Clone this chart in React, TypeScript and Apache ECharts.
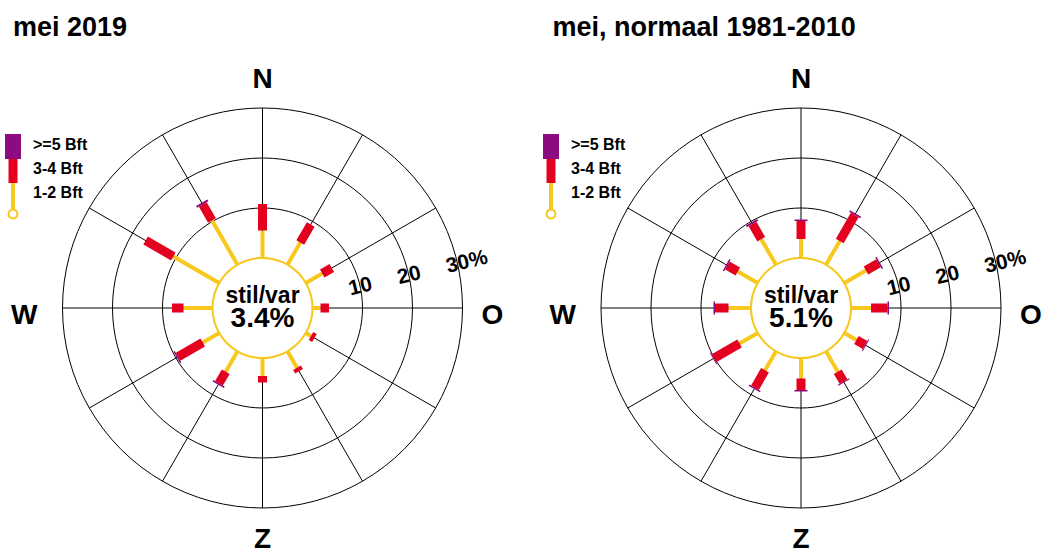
import React, { useEffect, useRef } from "react";
import * as echarts from "echarts";

// ---- data ----
const directions = [0, 30, 60, 90, 120, 150, 180, 210, 240, 270, 300, 330];
const titles = ["mei 2019", "mei, normaal 1981-2010"];
// mei 2019 (percent of time per direction)
const may2019Light = [5.5, 5.1, 3.8, 1.6, 1.2, 3.8, 3.6, 4.7, 3.8, 5.8, 10.6, 10.2];
const may2019Moderate = [5.3, 4.2, 2.2, 1.7, 0.8, 0.8, 1.3, 2.7, 5.7, 2.3, 6.4, 3.7];
const may2019Strong = [0, 0, 0, 0, 0, 0, 0, 0.3, 0.3, 0, 0, 0.4];
const may2019Calm = 3.4;
// mei, normaal 1981-2010
const normalLight = [3.8, 5.5, 5.0, 4.0, 2.8, 4.7, 4.1, 4.4, 4.2, 4.5, 4.6, 5.9];
const normalModerate = [3.6, 6.0, 2.9, 3.3, 2.0, 2.3, 2.3, 4.0, 5.9, 2.7, 2.4, 3.5];
const normalStrong = [0.3, 0.3, 0.3, 0.3, 0.2, 0.2, 0.3, 0.3, 0.2, 0.3, 0.3, 0.4];
const normalCalm = 5.1;
// radius ticks
const radiusTicks = [10, 20, 30];
const radiusTickLabels = ["10", "20", "30%"];
const compassLabels: Record<number, string> = { 0: "N", 90: "O", 180: "Z", 270: "W" };
const legendLabels = [">=5 Bft", "3-4 Bft", "1-2 Bft"];
const calmLabel = "stil/var";

// ---- styles ----
const YELLOW = "#f8c81c";
const RED = "#e4001f";
const PURPLE = "#8c0b7e";
const FONT = "'Liberation Sans', Arial, Helvetica, sans-serif";

const panels = [
  { light: may2019Light, moderate: may2019Moderate, strong: may2019Strong, calm: may2019Calm, center: [262.5, 308], dx: 0, titleX: 13 },
  { light: normalLight, moderate: normalModerate, strong: normalStrong, calm: normalCalm, center: [801, 308], dx: 538, titleX: 552.5 },
];

function barRenderer(params: any, api: any) {
  const light = api.value(0);
  const dir = api.value(1);
  const mod = api.value(2);
  const strong = api.value(3);
  const c = api.coord([-10, dir]);
  const o = api.coord([30, dir]);
  const len = Math.hypot(o[0] - c[0], o[1] - c[1]);
  const ux = (o[0] - c[0]) / len;
  const uy = (o[1] - c[1]) / len;
  const nx = -uy;
  const ny = ux;
  const seg = (v1: number, v2: number, w: number, color: string) => {
    const p1 = api.coord([v1, dir]);
    const p2 = api.coord([v2, dir]);
    const h = w / 2;
    return {
      type: "polygon",
      shape: {
        points: [
          [p1[0] + nx * h, p1[1] + ny * h],
          [p2[0] + nx * h, p2[1] + ny * h],
          [p2[0] - nx * h, p2[1] - ny * h],
          [p1[0] - nx * h, p1[1] - ny * h],
        ],
      },
      style: { fill: color },
    };
  };
  const children: any[] = [];
  if (light > 0) children.push(seg(0, light, 4, YELLOW));
  if (mod > 0) children.push(seg(light, light + mod, 9, RED));
  if (strong > 0) children.push(seg(light + mod, light + mod + strong, 13, PURPLE));
  return { type: "group", children };
}

function calmRenderer(params: any, api: any) {
  const calm = api.value(2);
  const c = api.coord([-10, 0]);
  const e = api.coord([0, 0]);
  const R = Math.hypot(e[0] - c[0], e[1] - c[1]);
  return {
    type: "group",
    children: [
      { type: "circle", shape: { cx: c[0], cy: c[1], r: R }, style: { fill: "#fff", stroke: YELLOW, lineWidth: 2 } },
      {
        type: "text",
        x: c[0],
        y: c[1] - 1,
        style: {
          text: "{a|" + calmLabel + "}\n{b|" + calm.toFixed(1) + "%}",
          fill: "#000",
          fontFamily: FONT,
          fontWeight: "bold",
          align: "center",
          verticalAlign: "middle",
          rich: {
            a: { fontSize: 23, lineHeight: 20, fontWeight: "bold", fontFamily: FONT, fill: "#000", align: "center" },
            b: { fontSize: 28, lineHeight: 24, fontWeight: "bold", fontFamily: FONT, fill: "#000", align: "center" },
          },
        },
      },
    ],
  };
}

function tickRenderer(params: any, api: any) {
  const v = api.value(0);
  const a = api.value(1);
  const p = api.coord([v, a]);
  return {
    type: "text",
    x: p[0],
    y: p[1],
    rotation: (14 * Math.PI) / 180,
    style: {
      text: radiusTickLabels[params.dataIndex],
      x: -11.5,
      y: 0,
      fill: "#000",
      fontSize: 21,
      fontWeight: "bold",
      fontFamily: FONT,
      align: "left",
      verticalAlign: "middle",
    },
  };
}

export default function App() {
  const ref = useRef<HTMLDivElement>(null);
  useEffect(() => {
    if (!ref.current) return;
    const chart = echarts.init(ref.current, undefined, { renderer: "svg" });

    const polar = panels.map((p) => ({ center: p.center, radius: [0, 200] }));
    const angleAxis = panels.map((p, i) => ({
      polarIndex: i,
      type: "value",
      min: 0,
      max: 360,
      interval: 30,
      startAngle: 90,
      clockwise: true,
      axisLine: { show: false },
      axisTick: { show: false },
      splitLine: { show: true, lineStyle: { color: "#000", width: 1 } },
      axisLabel: {
        show: true,
        margin: 16,
        color: "#000",
        fontSize: 28,
        fontWeight: "bold",
        fontFamily: FONT,
        formatter: (v: number) => {
          const t = compassLabels[v];
          if (!t || v === 360) return "";
          return "{" + t.toLowerCase() + "|" + t + "}";
        },
        rich: {
          n: { fontSize: 28, fontWeight: "bold", fontFamily: FONT, color: "#000" },
          o: { fontSize: 28, fontWeight: "bold", fontFamily: FONT, color: "#000", padding: [12, 0, 0, 3] },
          z: { fontSize: 28, lineHeight: 22, fontWeight: "bold", fontFamily: FONT, color: "#000", padding: [6, 0, 0, 0] },
          w: { fontSize: 28, fontWeight: "bold", fontFamily: FONT, color: "#000", padding: [12, 9, 0, 0] },
        },
      },
    }));
    const radiusAxis = panels.map((p, i) => ({
      polarIndex: i,
      type: "value",
      min: -10,
      max: 30,
      interval: 10,
      axisLine: { show: false },
      axisTick: { show: false },
      axisLabel: { show: false },
      splitLine: { show: true, lineStyle: { color: "#000", width: 1 } },
    }));

    const series: any[] = [];
    panels.forEach((p, i) => {
      series.push({
        type: "custom",
        name: "calm" + i,
        coordinateSystem: "polar",
        polarIndex: i,
        renderItem: calmRenderer,
        data: [[0, 0, p.calm]],
        silent: true,
        z: 3,
      });
      series.push({
        type: "custom",
        name: "rose" + i,
        coordinateSystem: "polar",
        polarIndex: i,
        renderItem: barRenderer,
        encode: { radius: 0, angle: 1 },
        data: directions.map((d, k) => [p.light[k], d, p.moderate[k], p.strong[k]]),
        silent: true,
        z: 4,
      });
      series.push({
        type: "custom",
        name: "ticks" + i,
        coordinateSystem: "polar",
        polarIndex: i,
        renderItem: tickRenderer,
        encode: { radius: 0, angle: 1 },
        data: radiusTicks.map((t) => [t, 77]),
        silent: true,
        z: 5,
      });
    });

    const graphic: any[] = [];
    panels.forEach((p, i) => {
      const dx = p.dx;
      graphic.push({
        type: "text",
        x: p.titleX,
        y: 27,
        style: { text: titles[i], fill: "#000", fontSize: 27, fontWeight: "bold", fontFamily: FONT, align: "left", verticalAlign: "middle" },
      });
      graphic.push({ type: "rect", shape: { x: 5 + dx, y: 134, width: 16, height: 25 }, style: { fill: PURPLE } });
      graphic.push({ type: "rect", shape: { x: 8.5 + dx, y: 159, width: 9, height: 24 }, style: { fill: RED } });
      graphic.push({ type: "line", shape: { x1: 13 + dx, y1: 183, x2: 13 + dx, y2: 209.5 }, style: { stroke: YELLOW, lineWidth: 4 } });
      graphic.push({ type: "circle", shape: { cx: 13 + dx, cy: 214, r: 4.5 }, style: { fill: "#fff", stroke: YELLOW, lineWidth: 2 } });
      legendLabels.forEach((t, k) => {
        graphic.push({
          type: "text",
          x: 33 + dx,
          y: 144 + k * 24,
          style: { text: t, fill: "#000", fontSize: 16, fontWeight: "bold", fontFamily: FONT, align: "left", verticalAlign: "middle" },
        });
      });
    });

    chart.setOption({
      animation: false,
      backgroundColor: "#fff",
      polar,
      angleAxis,
      radiusAxis,
      series,
      graphic,
    });
    return () => chart.dispose();
  }, []);
  return <div ref={ref} style={{ position: "absolute", left: 0, top: 0, width: 1042, height: 554 }} />;
}
